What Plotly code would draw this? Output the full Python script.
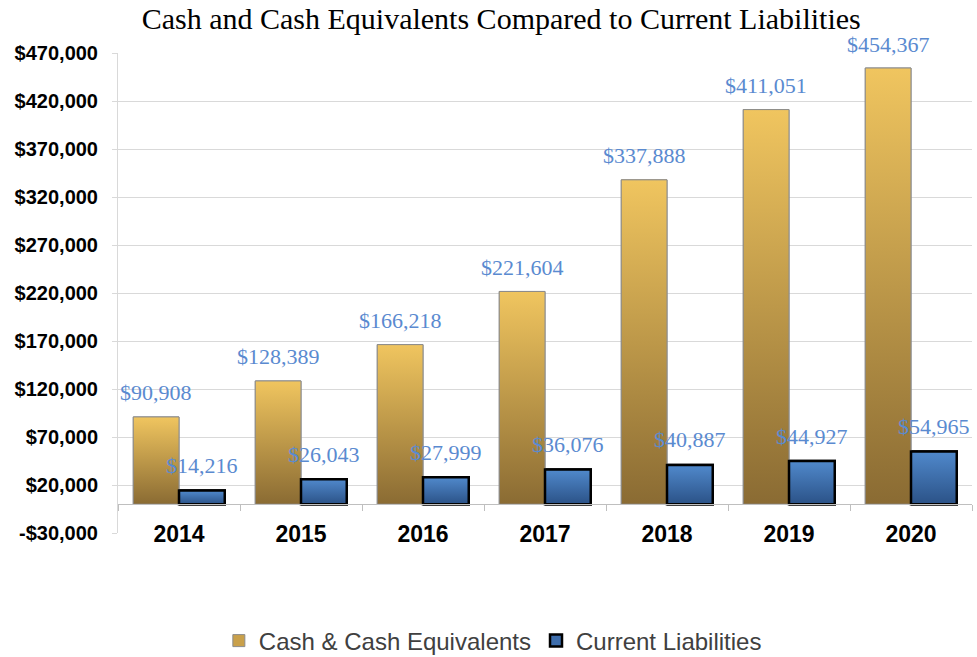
import plotly.graph_objects as go

years = ["2014", "2015", "2016", "2017", "2018", "2019", "2020"]
cash = [90908, 128389, 166218, 221604, 337888, 411051, 454367]
liabilities = [14216, 26043, 27999, 36076, 40887, 44927, 54965]
y_tick_vals = [-30000, 20000, 70000, 120000, 170000, 220000, 270000, 320000, 370000, 420000, 470000]
y_tick_text = ["-$30,000", "$20,000", "$70,000", "$120,000", "$170,000", "$220,000",
               "$270,000", "$320,000", "$370,000", "$420,000", "$470,000"]

W = 0.375
xs = list(range(len(years)))

GOLD_TOP, GOLD_BOT = "#F0C55F", "#8A6B33"
BLUE_TOP, BLUE_BOT = "#5089CC", "#2B5287"

fig = go.Figure()

fig.add_trace(go.Bar(x=xs, y=cash, width=W, offset=-W, name="Cash & Cash Equivalents",
                     marker=dict(color="#C9A04A", line=dict(color="#8C8C8C", width=1)),
                     hoverinfo="skip"))
fig.add_trace(go.Bar(x=xs, y=liabilities, width=W, offset=0, name="Current Liabilities",
                     marker=dict(color="#3E6EAD", line=dict(color="#000000", width=2.5)),
                     hoverinfo="skip"))

def grad_bar(x0, x1, v, top, bot, lc, lw):
    fig.add_trace(go.Scatter(
        x=[x0, x1, x1, x0, x0], y=[0, 0, v, v, 0], mode="lines", fill="toself",
        fillgradient=dict(type="vertical", colorscale=[[0, bot], [1, top]]),
        line=dict(color=lc, width=lw), showlegend=False, hoverinfo="skip"))

for i, v in zip(xs, cash):
    grad_bar(i - W, i, v, GOLD_TOP, GOLD_BOT, "#8C8C8C", 1)
for i, v in zip(xs, liabilities):
    grad_bar(i, i + W, v, BLUE_TOP, BLUE_BOT, "#000000", 2.5)

label_font = dict(family="Liberation Serif, Times New Roman, serif", size=22, color="#5A8AD0")
for i, v in zip(xs, cash):
    fig.add_annotation(x=i - W / 2, y=v, text=f"${v:,}", showarrow=False,
                       yshift=24, yanchor="middle", font=label_font)
for i, v in zip(xs, liabilities):
    fig.add_annotation(x=i + W / 2, y=v, text=f"${v:,}", showarrow=False,
                       yshift=25, yanchor="middle", font=label_font)

fig.update_layout(
    width=977, height=657,
    margin=dict(l=118, r=5, t=53, b=124),
    paper_bgcolor="white", plot_bgcolor="white",
    barmode="overlay",
    title=dict(text="Cash and Cash Equivalents Compared to Current Liabilities",
               x=0.513, xanchor="center", y=1 - 18 / 657, yanchor="middle", yref="container",
               font=dict(family="Liberation Serif, Times New Roman, serif", size=30, color="black")),
    showlegend=True,
    legend=dict(orientation="h", x=0.224, xanchor="left", xref="container",
                y=1 - 641 / 657, yanchor="middle", yref="container",
                font=dict(family="Liberation Sans, Arial, sans-serif", size=24, color="#404040"),
                itemwidth=30, traceorder="normal"),
    xaxis=dict(range=[-0.5, 6.5], tickmode="array", tickvals=xs, ticktext=years,
               anchor="free", position=0.06, showgrid=False, zeroline=False,
               showline=True, linecolor="#BFBFBF", linewidth=1,
               ticks="outside", ticklen=9, tickcolor="rgba(0,0,0,0)",
               tickfont=dict(family="Liberation Sans, Arial, sans-serif", size=23, color="black",
                             weight="bold"),
               minor=dict(tickmode="array", tickvals=[i - 0.5 for i in range(len(years) + 1)],
                          ticks="outside", ticklen=6, tickcolor="#BFBFBF", showgrid=False)),
    yaxis=dict(range=[-30000, 470000], tickmode="array", tickvals=y_tick_vals, ticktext=y_tick_text,
               showgrid=True, gridcolor="#D9D9D9", gridwidth=1, zeroline=False,
               showline=True, linecolor="#D9D9D9", linewidth=1,
               ticks="outside", ticklen=5, tickcolor="#D9D9D9", automargin=False,
               ticklabelstandoff=10,
               tickfont=dict(family="Liberation Sans, Arial, sans-serif", size=20, color="black",
                             weight="bold")),
)

fig.write_html("out.html", config={"displayModeBar": False},
               post_script="document.body.style.margin='0';")
